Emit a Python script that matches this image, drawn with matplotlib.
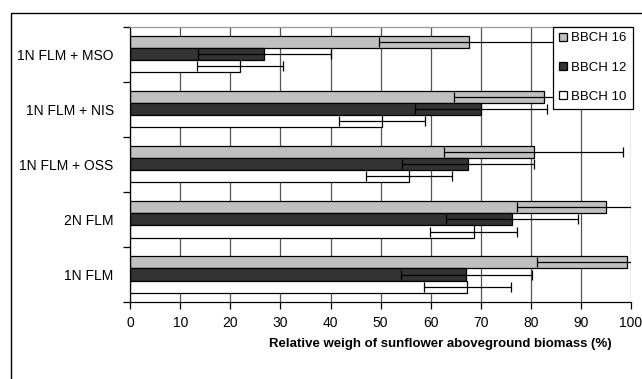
import matplotlib as mpl
import matplotlib.pyplot as plt
import numpy as np
from matplotlib.patches import Rectangle

mpl.rcParams.update({
    'font.family': 'sans-serif',
    'font.sans-serif': ['Liberation Sans', 'Arial', 'DejaVu Sans'],
    'font.size': 10,
})

# categories from bottom to top
treatments = ["1N FLM", "2N FLM", "1N FLM + OSS", "1N FLM + NIS", "1N FLM + MSO"]

bbch16 = [99.3, 95.1, 80.6, 82.6, 67.7]
bbch16_err = [18.0, 17.8, 17.9, 18.0, 18.0]
bbch12 = [67.1, 76.3, 67.5, 70.0, 26.8]
bbch12_err = [13.1, 13.2, 13.2, 13.2, 13.2]
bbch10 = [67.3, 68.6, 55.6, 50.2, 22.0]
bbch10_err = [8.7, 8.7, 8.6, 8.6, 8.6]

series = [
    ("BBCH 16", bbch16, bbch16_err, "#c0c0c0", 0.22),
    ("BBCH 12", bbch12, bbch12_err, "#333333", 0.0),
    ("BBCH 10", bbch10, bbch10_err, "#ffffff", -0.22),
]

fig = plt.figure(figsize=(6.42, 3.79), dpi=100)
ax = fig.add_axes([0.203, 0.203, 0.7795, 0.727])

y = np.arange(len(treatments))
bar_h = 0.22

for name, vals, errs, col, off in series:
    ax.barh(y + off, vals, height=bar_h, color=col, edgecolor="black",
            linewidth=0.9, label=name, zorder=2)
    ax.errorbar(vals, y + off, xerr=errs, fmt="none", ecolor="black",
                elinewidth=0.9, capsize=3.5, capthick=0.9, zorder=3)

ax.set_xlim(0, 100)
ax.set_ylim(-0.5, len(treatments) - 0.5)
ax.set_xticks(np.arange(0, 101, 10))

ax.set_yticks(y)
ax.set_yticklabels(treatments)
ax.set_yticks(np.arange(-0.5, len(treatments), 1.0), minor=True)
ax.tick_params(axis="y", which="major", length=0, pad=12)
ax.tick_params(axis="y", which="minor", length=5, direction="out", width=0.9)
ax.tick_params(axis="x", length=5, direction="out", width=0.9, pad=5)

ax.grid(axis="x", color="#555555", linewidth=0.9, zorder=0)
ax.set_axisbelow(True)

ax.spines["right"].set_visible(False)
ax.spines["top"].set_color("#999999")
ax.spines["top"].set_linewidth(0.9)
ax.spines["left"].set_linewidth(0.9)
ax.spines["bottom"].set_linewidth(0.9)

ax.set_xlabel("Relative weigh of sunflower aboveground biomass (%)",
              fontweight="bold", fontsize=9.5)
ax.xaxis.set_label_coords(0.619, -0.13)

leg = ax.legend(loc="upper left", bbox_to_anchor=(0.8455, 1.0),
                bbox_transform=ax.transAxes, borderaxespad=0,
                frameon=True, fancybox=False, framealpha=1,
                edgecolor="black", handlelength=0.6, handleheight=0.6,
                handletextpad=0.3, labelspacing=1.3, borderpad=0.45,
                fontsize=9.5)
leg.get_frame().set_linewidth(0.9)
leg.set_zorder(5)

# outer frame around the chart
fig.patches.append(Rectangle((11 / 642, -0.1), 1.2, 1.1 - 13 / 379,
                             transform=fig.transFigure, fill=False,
                             edgecolor="black", linewidth=1.0))

fig.savefig("out.png", dpi=100)
